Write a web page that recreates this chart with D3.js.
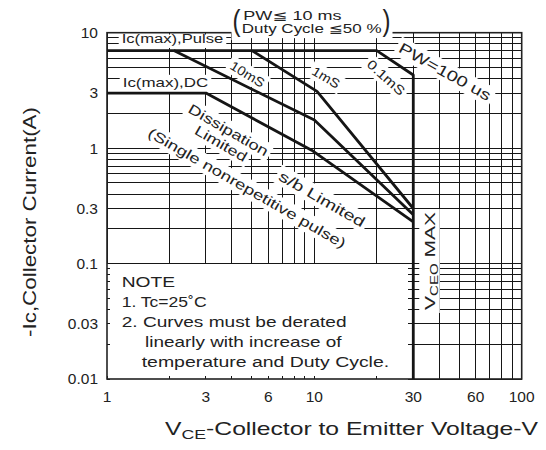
<!DOCTYPE html>
<html><head><meta charset="utf-8">
<script src="https://cdn.jsdelivr.net/npm/d3@7"></script>
<style>
html,body{margin:0;padding:0;background:#fff;}
svg{display:block;}
text{font-family:"Liberation Sans", Arial, "DejaVu Sans", "Noto Sans CJK JP", sans-serif; fill:#222;}
</style></head><body>
<svg id="c" width="546" height="450"></svg>
<script>
// ---------------- data ----------------
const xTickValues = [1, 3, 6, 10, 30, 60, 100];
const xTickLabels = ["1", "3", "6", "10", "30", "60", "100"];
const yTickValues = [0.01, 0.03, 0.1, 0.3, 1, 3, 10];
const yTickLabels = ["0.01", "0.03", "0.1", "0.3", "1", "3", "10"];

// Safe operating area boundaries: collector-emitter voltage (V) / collector current (A)
const pulseV = [1, 20, 30, 30];          // Ic(max) pulse, 0.1 ms, then VCEO max
const pulseI = [7, 7, 4.3, 0.01];
const ms1V = [5, 10.3, 30];
const ms1I = [7, 3.1, 0.3];
const ms10V = [2.1, 10, 30];
const ms10I = [7, 1.75, 0.265];
const dcV = [1, 3, 9.7, 30];
const dcI = [3, 3, 0.96, 0.23];

// ---------------- layout ----------------
const svg = d3.select("#c");
const x = d3.scaleLog().domain([1, 100]).range([107, 521.7]);
const y = d3.scaleLog().domain([0.01, 10]).range([379, 32.7]);
const vMax = 30, decadeLow = 0.1;

const gridLayer = svg.append("g").attr("stroke", "#161616").attr("stroke-width", 1).attr("shape-rendering", "crispEdges");
const frameLayer = svg.append("g");
const maskLayer = svg.append("g");
const curveLayer = svg.append("g");
const textLayer = svg.append("g");

// grid
x.ticks().forEach(u => {
  const top = y(10), bot = u < vMax ? y(decadeLow) : y(0.01);
  gridLayer.append("line").attr("x1", x(u)).attr("x2", x(u)).attr("y1", top).attr("y2", bot);
});
y.ticks().forEach(v => {
  const left = v < decadeLow ? x(vMax) : x(1);
  gridLayer.append("line").attr("x1", left).attr("x2", x(100)).attr("y1", y(v)).attr("y2", y(v));
});
// small inward ticks on left axis and bottom axis, and on VCEO line
y.ticks().forEach(v => {
  gridLayer.append("line").attr("x1", x(1)).attr("x2", x(1) + 3).attr("y1", y(v)).attr("y2", y(v));
  if (v < decadeLow) gridLayer.append("line").attr("x1", x(vMax) - 5).attr("x2", x(vMax)).attr("y1", y(v)).attr("y2", y(v));
});
x.ticks().forEach(u => {
  gridLayer.append("line").attr("x1", x(u)).attr("x2", x(u)).attr("y1", y(0.01)).attr("y2", y(0.01) - 3);
});

// frame
frameLayer.append("rect").attr("x", x(1)).attr("y", y(10))
  .attr("width", x(100) - x(1)).attr("height", y(0.01) - y(10))
  .attr("fill", "none").attr("stroke", "#222").attr("stroke-width", 1.6);

// tick labels
textLayer.selectAll(".yl").data(yTickValues).enter().append("text")
  .attr("x", 98).attr("y", d => y(d) + 5.4).attr("text-anchor", "end")
  .attr("font-size", 15.5).text((d, i) => yTickLabels[i]);
textLayer.selectAll(".xl").data(xTickValues).enter().append("text")
  .attr("x", d => x(d)).attr("y", 401.5).attr("text-anchor", "middle")
  .attr("font-size", 15.5).text((d, i) => xTickLabels[i]);

// curves
const line = d3.line().x(d => x(d[0])).y(d => y(d[1]));
[[pulseV, pulseI], [ms1V, ms1I], [ms10V, ms10I], [dcV, dcI]].forEach(([vs, is]) => {
  curveLayer.append("path").attr("d", line(vs.map((v, i) => [v, is[i]])))
    .attr("fill", "none").attr("stroke", "#151515").attr("stroke-width", 2.8)
    .attr("stroke-linejoin", "round");
});

// labels
function addLabel(L) {
  const gT = textLayer.append("g");
  const txt = gT.append("text").attr("font-size", L.fs);
  if (L.parts) {
    L.parts.forEach(p => {
      const ts = txt.append("tspan").text(p.t);
      if (p.sub) ts.attr("font-size", L.fs * 0.72).attr("dy", L.fs * 0.22);
      else if (p.after) ts.attr("dy", -L.fs * 0.22);
    });
  } else txt.text(L.t);
  const w = txt.node().getComputedTextLength();
  const s = L.len / w;
  let tr;
  if (L.mode === "center") {
    txt.attr("text-anchor", "middle").attr("y", L.fs * 0.35);
    tr = `translate(${L.x},${L.y}) rotate(${L.a || 0}) scale(${s},1)`;
  } else {
    tr = `translate(${L.x},${L.y}) scale(${s},1)`;
  }
  gT.attr("transform", tr);
  if (L.mask !== false) {
    const px = (L.padX ?? 3) / s, py = L.padY ?? 2.5;
    let x0, y0, h;
    if (L.mode === "center") { x0 = -w / 2 - px; y0 = -0.5 * L.fs - py; h = L.fs + 2 * py; }
    else { const tt = L.trimTop || 0; x0 = -px; y0 = -0.74 * L.fs - py + tt; h = 0.96 * L.fs + 2 * py - tt; }
    maskLayer.append("rect").attr("transform", tr).attr("x", x0).attr("y", y0)
      .attr("width", w + 2 * px).attr("height", h).attr("fill", "#fff");
  }
}

const labels = [
  {t: "Ic(max),Pulse", mode: "base", x: 121.7, y: 42.5, fs: 13.5, len: 101.6, trimTop: 4.5},
  {t: "Ic(max),DC", mode: "base", x: 122.7, y: 87.3, fs: 13.5, len: 85.6},
  {t: "(", mode: "base", x: 232.5, y: 31.2, fs: 29, len: 8, padX: 1},
  {t: ")", mode: "base", x: 382.5, y: 31.2, fs: 29, len: 8, padX: 2},
  {t: "PW\u2266 10 ms", mode: "base", x: 243.3, y: 19.5, fs: 12, len: 98.4},
  {t: "Duty Cycle \u226650 %", mode: "base", x: 241.7, y: 33, fs: 12, len: 140},
  {t: "10mS", mode: "center", x: 247.5, y: 74.2, a: 31, fs: 13, len: 38},
  {t: "1mS", mode: "center", x: 326, y: 77.5, a: 31, fs: 13, len: 30},
  {t: "0.1mS", mode: "center", x: 386, y: 77.5, a: 42, fs: 13, len: 46},
  {t: "PW=100 us", mode: "center", x: 445, y: 71.7, a: 29, fs: 15, len: 103},
  {t: "Dissipation", mode: "center", x: 228.5, y: 130, a: 30, fs: 14, len: 90},
  {t: "Limited", mode: "center", x: 221, y: 143.5, a: 30, fs: 14, len: 58},
  {t: "(Single nonrepetitive pulse)", mode: "center", x: 247, y: 188, a: 30, fs: 14, len: 226},
  {t: "s/b Limited", mode: "center", x: 322, y: 199, a: 30, fs: 14.5, len: 97},
  {parts: [{t: "V"}, {t: "CEO", sub: true}, {t: " MAX", after: true}], mode: "center", x: 429.5, y: 261, a: -90, fs: 15.5, len: 98},
  {t: "NOTE", mode: "base", x: 121.7, y: 287.3, fs: 15, len: 53.3, mask: false},
  {t: "1. Tc=25\u02DAC", mode: "base", x: 121.7, y: 306.9, fs: 15, len: 85, mask: false},
  {t: "2. Curves must be derated", mode: "base", x: 121.7, y: 327.3, fs: 15, len: 225, mask: false},
  {t: "linearly with increase of", mode: "base", x: 145, y: 347, fs: 15, len: 196.7, mask: false},
  {t: "temperature and Duty Cycle.", mode: "base", x: 141.7, y: 366.5, fs: 15, len: 247.6, mask: false},
  {t: "-Ic,Collector Current(A)", mode: "center", x: 30, y: 222, a: -90, fs: 18, len: 230, mask: false},
  {parts: [{t: "V"}, {t: "CE", sub: true}, {t: "-Collector to Emitter Voltage-V", after: true}], mode: "base", x: 165, y: 435, fs: 18.5, len: 373, mask: false}
];
labels.forEach(addLabel);
</script>
</body></html>
